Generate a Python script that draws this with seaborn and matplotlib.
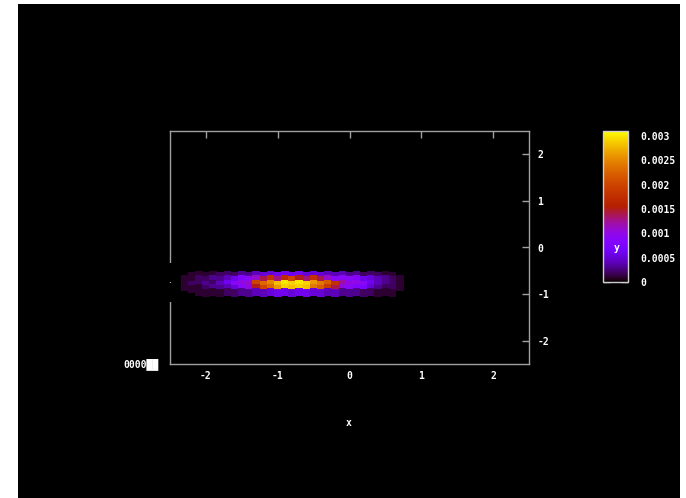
import numpy as np
import pandas as pd
import seaborn as sns
import matplotlib
matplotlib.use("Agg")
import matplotlib.pyplot as plt
from matplotlib.colors import ListedColormap, Normalize
from matplotlib.patches import Rectangle
from matplotlib.cm import ScalarMappable

# grid of the density cloud (values in units of 1e-4)
x_cols = [-2.3, -2.2, -2.1, -2.0, -1.9, -1.8, -1.7, -1.6, -1.5, -1.4, -1.3,
          -1.2, -1.1, -1.0, -0.9, -0.8, -0.7, -0.6, -0.5, -0.4, -0.3, -0.2,
          -0.1, 0.0, 0.1, 0.2, 0.3, 0.4, 0.5, 0.6, 0.7]
# rows alternate between two slightly shifted sets (even / odd columns)
y_rows_even = [-0.58, -0.67, -0.77, -0.86, -0.96]
y_rows_odd = [-0.61, -0.70, -0.80, -0.89, -0.98]
density_e4 = [
    [None, 1, 1, 1, None],
    [1, 1, 2, 1, None],
    [1, 2, 2, 1, 1],
    [1, 2, 3, 2, 1],
    [1, 3, 2, 3, 1],
    [2, 3, 4, 3, 1],
    [2, 4, 6, 4, 2],
    [2, 6, 9, 5, 2],
    [3, 8, 10, 9, 3],
    [3, 9, 11, 10, 3],
    [4, 11, 20, 15, 4],
    [5, 14, 23, 20, 4],
    [5, 18, 25, 23, 5],
    [6, 13, 28, 26, 6],
    [6, 17, 30, 29, 6],
    [6, 20, 29, 28, 5],
    [6, 15, 30, 29, 6],
    [5, 13, 29, 28, 6],
    [5, 18, 26, 24, 5],
    [5, 14, 24, 22, 5],
    [4, 11, 22, 19, 4],
    [4, 9, 18, 14, 4],
    [4, 9, 12, 10, 3],
    [3, 9, 10, 9, 3],
    [3, 8, 10, 8, 3],
    [2, 6, 9, 7, 2],
    [2, 5, 6, 5, 2],
    [2, 4, 4, 3, 1],
    [1, 3, 3, 2, 1],
    [1, 2, 2, 2, 1],
    [None, 1, 1, 1, None],
]
# zero-density points at the left edge (black, they hide the spine)
edge_x = -2.52
edge_y = [-0.42, -0.5, -0.58, -0.66, -0.84, -0.92, -1.0, -1.08]

x_ticks = [-2, -1, 0, 1, 2]
y_ticks = [-2, -1, 0, 1, 2]
cb_ticks = [0, 0.0005, 0.001, 0.0015, 0.002, 0.0025, 0.003]
cb_labels = ["0", "0.0005", "0.001", "0.0015", "0.002", "0.0025", "0.003"]
cb_max = 0.0031

rows = []
for i, (xi, col) in enumerate(zip(x_cols, density_e4)):
    yr = y_rows_even if i % 2 == 0 else y_rows_odd
    for yi, v in zip(yr, col):
        if v is not None:
            rows.append((xi, yi, v * 1e-4))
df = pd.DataFrame(rows, columns=["x", "y", "z"])
edge_df = pd.DataFrame({"x": [edge_x] * len(edge_y), "y": edge_y})

# gnuplot default pm3d palette (rgbformulae 7,5,15)
t = np.linspace(0, 1, 256)
pal = np.column_stack([np.sqrt(t), t ** 3, np.clip(np.sin(2 * np.pi * t), 0, 1)])
cmap = ListedColormap(pal)
norm = Normalize(0, cb_max)

grey = "#a0a0a0"
mono = "DejaVu Sans Mono"

sns.set_style("dark")
plt.rcParams["font.family"] = [mono, "DejaVu Sans"]

fig = plt.figure(figsize=(6.86, 4.98), dpi=100)
fig.patch.set_facecolor("white")
bg = Rectangle((18 / 686, 0), 662 / 686, 494 / 498, transform=fig.transFigure,
               facecolor="black", edgecolor="none", zorder=-10)
fig.add_artist(bg)

ax = fig.add_axes([170 / 686, 1 - 364 / 498, 359 / 686, 233 / 498])
ax.set_facecolor("black")
ax.grid(False)

sns.scatterplot(data=df, x="x", y="y", hue="z", palette=cmap, hue_norm=norm,
                marker="s", s=30, linewidth=0, legend=False, ax=ax, zorder=3)
sns.scatterplot(data=edge_df, x="x", y="y", color="black", marker="s", s=30,
                linewidth=0, legend=False, ax=ax, zorder=3, clip_on=False)

ax.set_xlim(-2.5, 2.5)
ax.set_ylim(-2.5, 2.5)
ax.set_xticks(x_ticks)
ax.set_yticks(y_ticks)
ax.set_xticklabels([str(v) for v in x_ticks])
ax.set_yticklabels([str(v) for v in y_ticks])
for s in ax.spines.values():
    s.set_color(grey)
    s.set_linewidth(1)
ax.tick_params(direction="in", length=5, width=1, color=grey, top=True, right=True,
               labelleft=False, labelright=True, labelcolor="white", labelsize=7)
ax.tick_params(axis="x", pad=5)
ax.tick_params(axis="y", pad=6)
for lab in ax.get_xticklabels() + ax.get_yticklabels():
    lab.set_fontweight("bold")
ax.set_xlabel("")
ax.set_ylabel("")
fig.text(349 / 686, 1 - 423 / 498, "x", color="white", fontsize=7, fontweight="bold",
         ha="center", va="center")
fig.text(159 / 686, 1 - 364 / 498, "0000\u2588\u2588", color="white", fontsize=7,
         fontweight="bold", ha="right", va="center")

# colorbar
cax = fig.add_axes([603 / 686, 1 - 282 / 498, 25 / 686, 151 / 498])
cb = fig.colorbar(ScalarMappable(norm=norm, cmap=cmap), cax=cax)
cb.outline.set_edgecolor("#d0d0d0")
cb.outline.set_linewidth(1)
cb.set_ticks(cb_ticks)
cb.set_ticklabels(cb_labels)
cax.tick_params(direction="in", length=5, width=1, color="#c8c8c8", left=True, right=True,
                labelcolor="white", labelsize=7, pad=9)
for lab in cax.get_yticklabels():
    lab.set_fontweight("bold")
fig.text(617 / 686, 1 - 248 / 498, "y", color="white", fontsize=7, fontweight="bold",
         ha="center", va="center")

fig.savefig("out.png", dpi=100, facecolor=fig.get_facecolor())
